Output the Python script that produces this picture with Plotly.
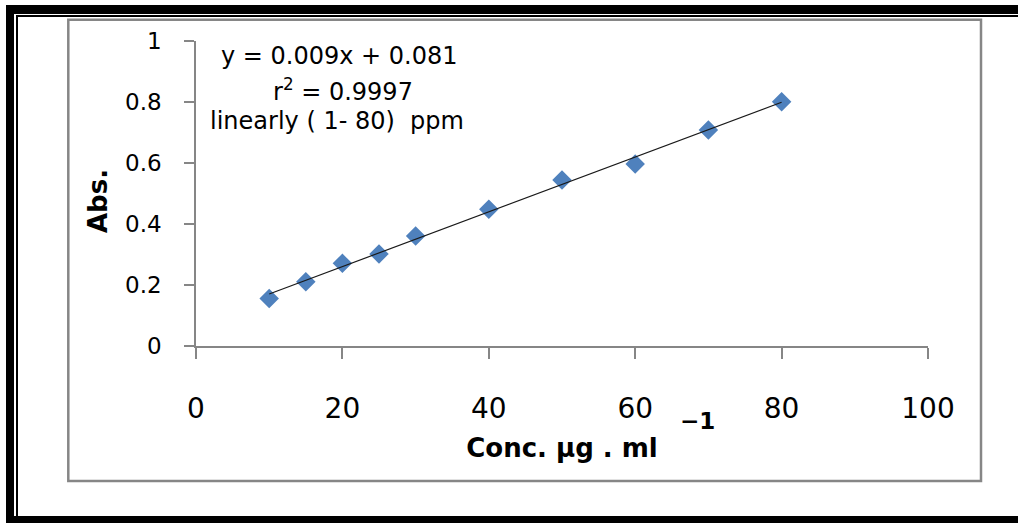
import numpy as np
import plotly.graph_objects as go

# ---- data ----
conc = [10, 15, 20, 25, 30, 40, 50, 60, 70, 80]
absorb = [0.156, 0.211, 0.271, 0.302, 0.361, 0.448, 0.544, 0.597, 0.708, 0.801]
x_ticks = [0, 20, 40, 60, 80, 100]
y_ticks = [0, 0.2, 0.4, 0.6, 0.8, 1.0]
eq_lines = ["y = 0.009x + 0.081", "r<sup>2</sup> = 0.9997", "linearly ( 1- 80)\u00a0 ppm"]

W, H = 1018, 523
L, R, T, B = 196, 90, 41, 177
PW, PH = W - L - R, H - T - B


def px(x):
    return (x - L) / PW


def py(y):
    return (H - B - y) / PH


slope, intercept = np.polyfit(conc, absorb, 1)
fit_x = [min(conc), max(conc)]
fit_y = [slope * v + intercept for v in fit_x]

fig = go.Figure()
fig.add_trace(go.Scatter(x=conc, y=absorb, mode="markers",
                         marker=dict(symbol="diamond", size=15, color="#4F81BD",
                                     line=dict(width=0)),
                         showlegend=False))
fig.add_trace(go.Scatter(x=fit_x, y=fit_y, mode="lines",
                         line=dict(color="#1a1a1a", width=1.2),
                         showlegend=False))

axis_gray = "#868686"
fig.update_layout(
    template="none",
    width=W, height=H,
    margin=dict(l=L, r=R, t=T, b=B, pad=0),
    paper_bgcolor="white", plot_bgcolor="white",
    showlegend=False,
    xaxis=dict(range=[0, 100], tickvals=x_ticks, showgrid=False, zeroline=False,
               showline=True, linecolor=axis_gray, linewidth=1.5,
               ticks="outside", ticklen=11, tickcolor=axis_gray, tickwidth=1.5,
               tickfont=dict(family="DejaVu Sans", size=28, color="black"),
               ticklabelstandoff=26, automargin=False,
               title=dict(text="<b>Conc. µg . ml</b>", standoff=14,
                          font=dict(family="DejaVu Sans", size=26, color="black"))),
    yaxis=dict(range=[0, 1], tickvals=y_ticks, showgrid=False, zeroline=False,
               showline=True, linecolor=axis_gray, linewidth=1.5,
               ticks="outside", ticklen=10, tickcolor=axis_gray, tickwidth=1.5,
               tickfont=dict(family="DejaVu Sans", size=23, color="black"),
               ticklabelstandoff=18, automargin=False),
)

# y-axis title, placed precisely
fig.add_annotation(text="<b>Abs.</b>", x=px(98), y=py(201), xref="paper", yref="paper",
                   xanchor="center", yanchor="middle", textangle=-90, showarrow=False,
                   font=dict(family="DejaVu Sans", size=26, color="black"))

# equation text
eq_pos = [(339, 55.8), (343, 89.5), (337, 121)]
for txt, (cx, cy) in zip(eq_lines, eq_pos):
    fig.add_annotation(text=txt, x=px(cx), y=py(cy), xref="paper", yref="paper",
                       xanchor="center", yanchor="middle", showarrow=False,
                       font=dict(family="DejaVu Sans", size=24, color="black"))

# the "-1" exponent of the x title
fig.add_annotation(text="<b>\u22121</b>", x=px(697), y=py(421), xref="paper", yref="paper",
                   xanchor="center", yanchor="middle", showarrow=False,
                   font=dict(family="DejaVu Sans", size=23, color="black"))

shapes = []
# inner gray chart frame
shapes.append(dict(type="rect", xref="paper", yref="paper",
                   x0=px(68.3), x1=px(981), y0=py(19.7), y1=py(481),
                   line=dict(color=axis_gray, width=2.5), fillcolor="rgba(0,0,0,0)"))


def block(x0, x1, y0, y1):
    return dict(type="rect", xref="paper", yref="paper",
                x0=px(x0), x1=px(x1), y0=py(y0), y1=py(y1),
                line=dict(width=0), fillcolor="black")


# outer black double frame
shapes += [
    block(6, W, 5, 14),      # top thick
    block(16, W, 15, 17),    # top thin
    block(6, 14, 5, H),      # left thick
    block(16, 18, 15, 516),  # left thin
    block(6, W, 516, H),     # bottom thick
]
fig.update_layout(shapes=shapes)

fig.write_html("out.html", config={"displayModeBar": False},
               post_script="document.body.style.margin='0';document.body.style.overflow='hidden';")
